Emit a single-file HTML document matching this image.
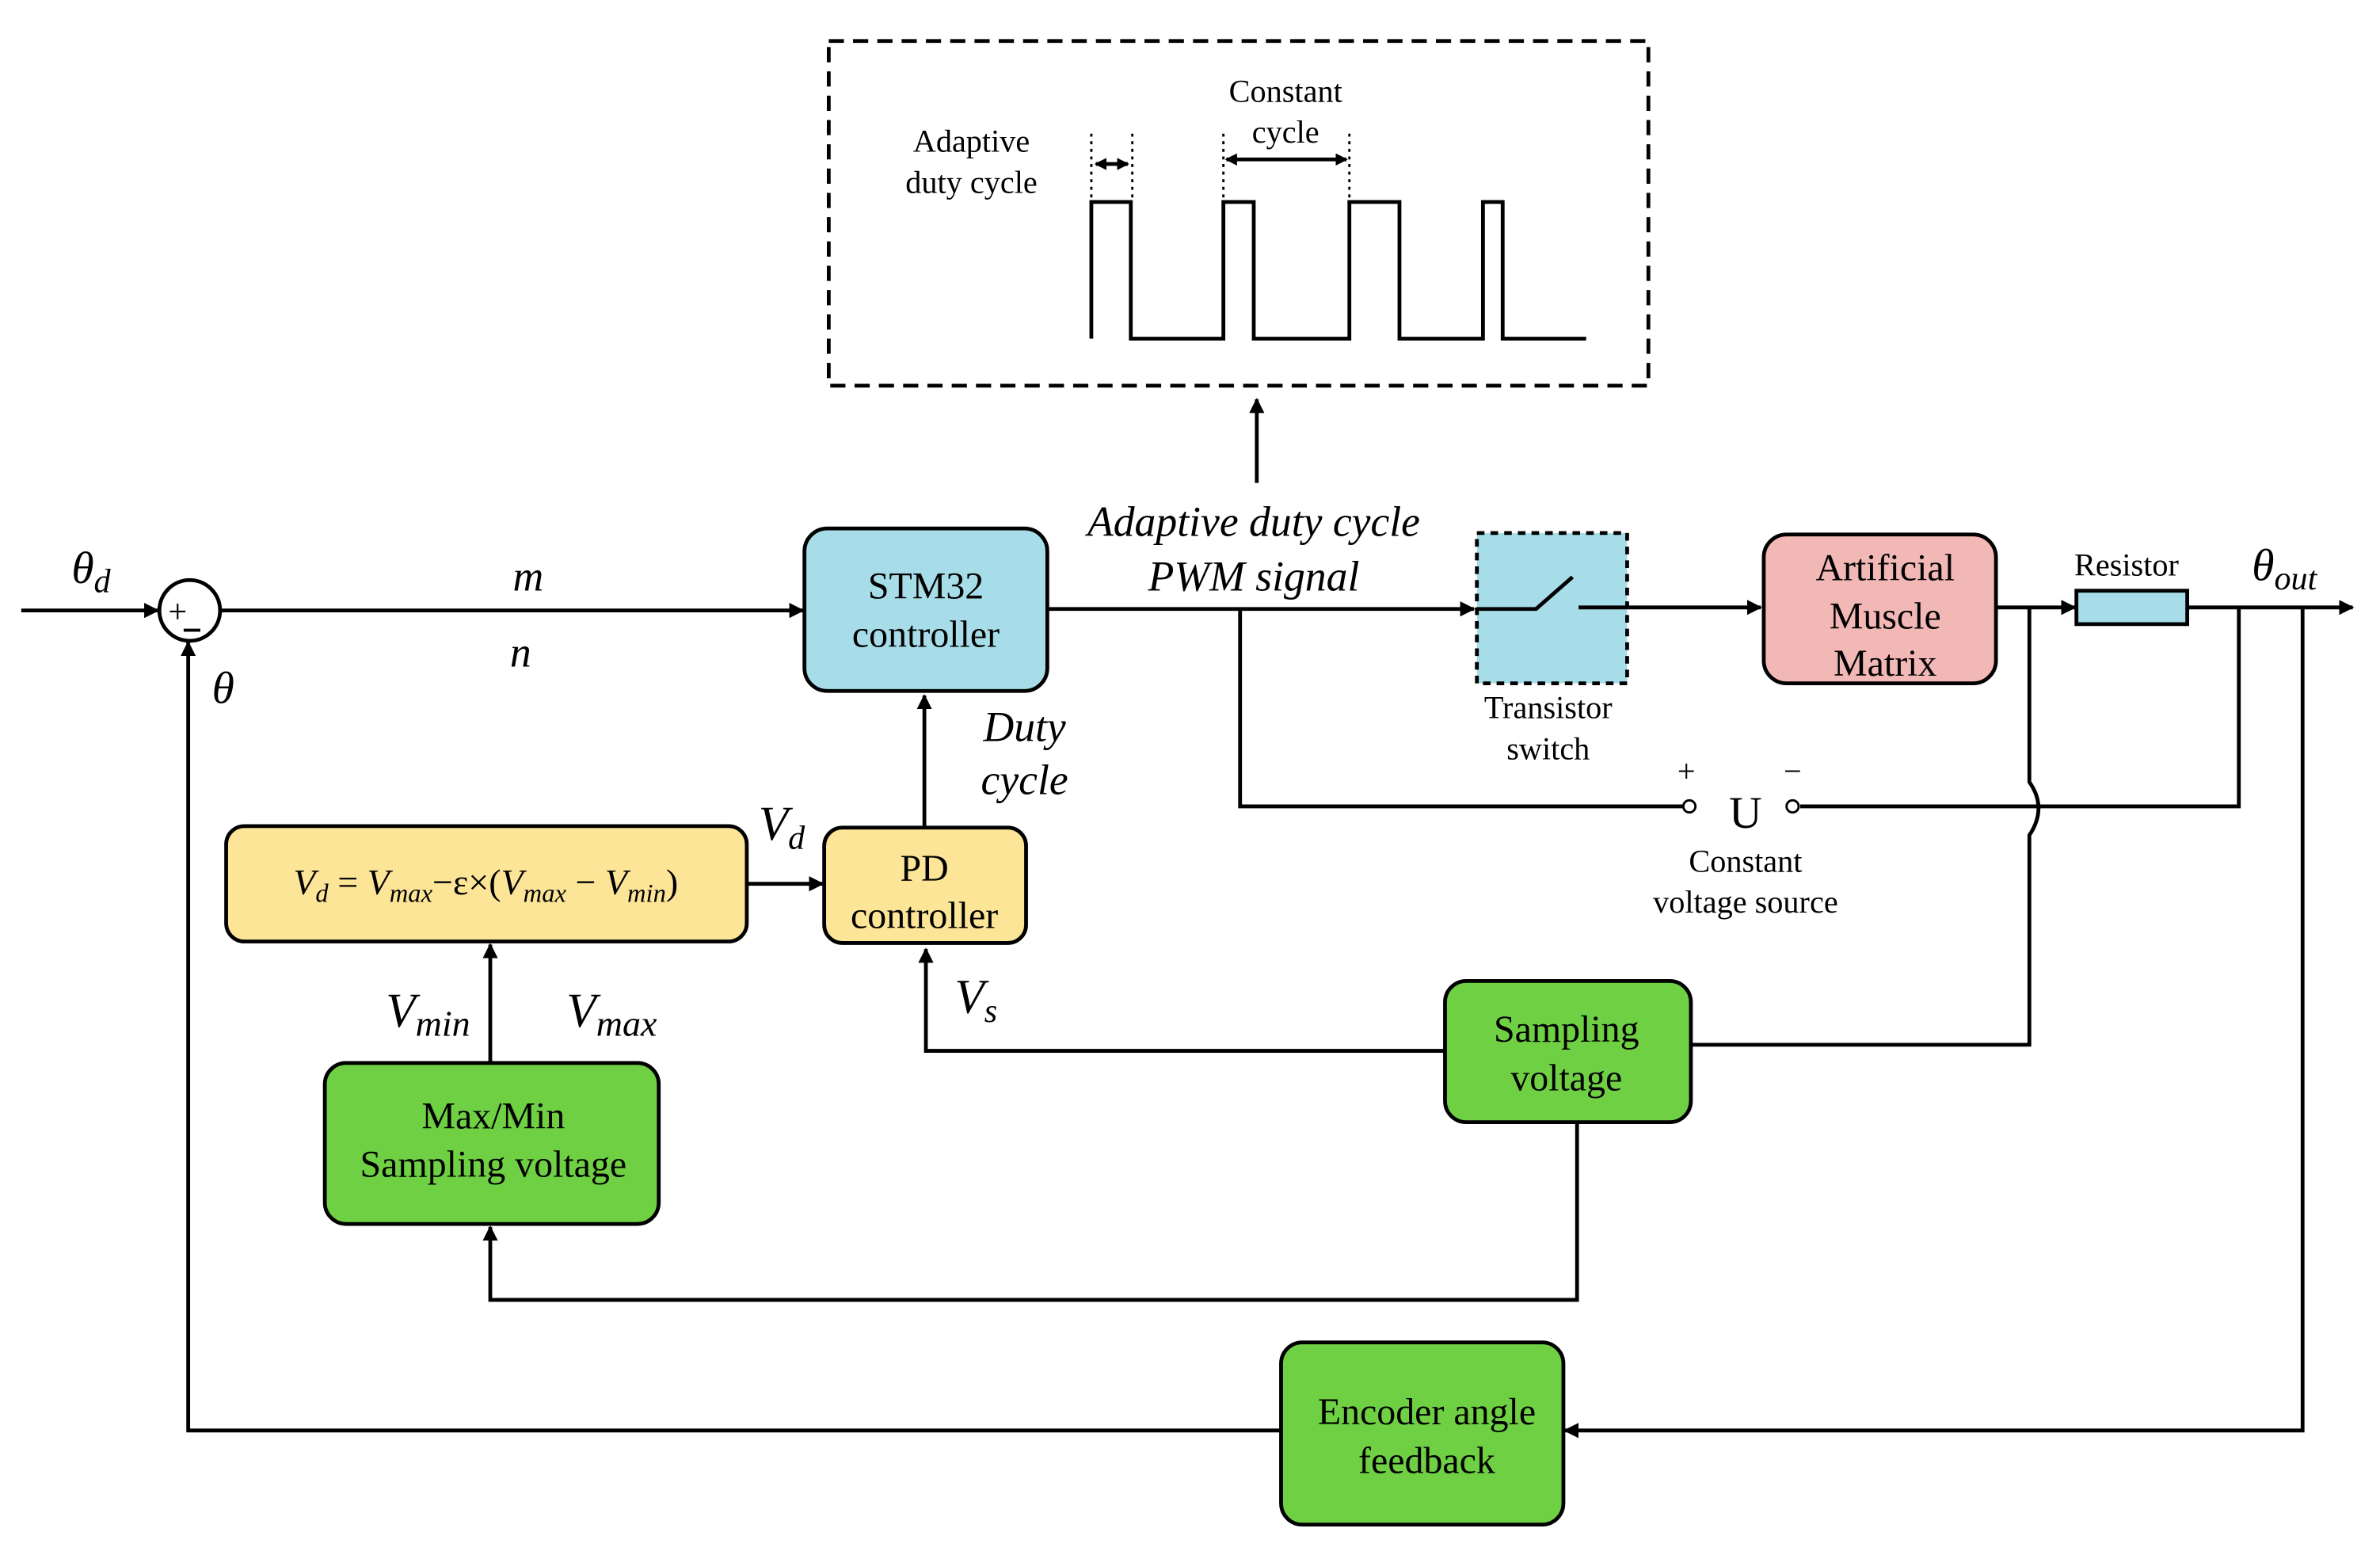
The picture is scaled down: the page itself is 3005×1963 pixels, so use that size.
<!DOCTYPE html>
<html><head><meta charset="utf-8"><style>html,body{margin:0;padding:0;background:#fff}svg{display:block}</style></head><body>
<svg width="3005" height="1963" viewBox="0 0 1568 1024" preserveAspectRatio="none" xmlns="http://www.w3.org/2000/svg" font-family="'Liberation Serif', serif">
<defs><marker id="a" markerWidth="10" markerHeight="10" refX="9" refY="5" orient="auto" markerUnits="userSpaceOnUse"><path d="M0,0 L10,5 L0,10 z" fill="#000"/></marker>
<marker id="b" markerWidth="8" markerHeight="8" refX="7" refY="4" orient="auto-start-reverse" markerUnits="userSpaceOnUse"><path d="M0,0 L8,4 L0,8 z" fill="#000"/></marker></defs>
<g fill="none" stroke="#000" stroke-width="2.5">
<rect x="546" y="27" width="540" height="227" stroke-dasharray="10,6"/>
<path d="M719,223 V133 H745 V223 H806 V133 H826 V223 H889 V133 H922 V223 H977 V133 H990 V223 H1045"/>
</g>
<g stroke="#000" stroke-width="1.5" stroke-dasharray="2,3"><path d="M719,88 V133 M746,88 V133 M806,88 V133 M889,88 V133"/></g>
<g stroke="#000" stroke-width="2.5" fill="none">
<path d="M722,108 H743" marker-start="url(#b)" marker-end="url(#b)"/>
<path d="M808,105 H887" marker-start="url(#b)" marker-end="url(#b)"/>
<path d="M828,318 V263" marker-end="url(#a)"/>
<path d="M14,402 H104" marker-end="url(#a)"/>
<path d="M146,402 H529" marker-end="url(#a)"/>
<path d="M690,401 H971" marker-end="url(#a)"/>
<path d="M817,401 V531 H1109"/>
<path d="M1186,531 H1475 V401"/>
<path d="M1040,400 H1160" marker-end="url(#a)"/>
<path d="M1315,400 H1367" marker-end="url(#a)"/>
<path d="M1441,400 H1550" marker-end="url(#a)"/>
<path d="M1337,400 V515 Q1349,532 1337,550 V688 H1114"/>
<path d="M1517,400 V942 H1031" marker-end="url(#a)"/>
<path d="M952,692 H610 V625" marker-end="url(#a)"/>
<path d="M1039,739 V856 H323 V808" marker-end="url(#a)"/>
<path d="M323,700 V622" marker-end="url(#a)"/>
<path d="M492,582 H542" marker-end="url(#a)"/>
<path d="M609,545 V458" marker-end="url(#a)"/>
<path d="M844,942 H124 V423" marker-end="url(#a)"/>
<circle cx="125" cy="402" r="20" fill="#fff"/>
<circle cx="1113" cy="531" r="4" fill="#fff" stroke-width="1.5"/>
<circle cx="1181" cy="531" r="4" fill="#fff" stroke-width="1.5"/>
</g>
<g stroke="#000" stroke-width="2.5">
<rect x="530" y="348" width="160" height="107" rx="15" fill="#a6dde8"/>
<rect x="973" y="351" width="99" height="99" fill="#a6dde8" stroke-dasharray="5,4"/>
<rect x="1162" y="352" width="153" height="98" rx="15" fill="#f2b8b5"/>
<rect x="1368" y="389" width="73" height="22" fill="#a6dde8"/>
<rect x="952" y="646" width="162" height="93" rx="14" fill="#6fd044"/>
<rect x="214" y="700" width="220" height="106" rx="14" fill="#6fd044"/>
<rect x="149" y="544" width="343" height="76" rx="12" fill="#fde598"/>
<rect x="543" y="545" width="133" height="76" rx="12" fill="#fde598"/>
<rect x="844" y="884" width="186" height="120" rx="14" fill="#6fd044"/>
</g>
<path d="M973,401 H1012 L1036,380 M1040,400 H1072" stroke="#000" stroke-width="2.5" fill="none"/>
<g font-size="21" text-anchor="middle" fill="#000">
<text x="640" y="100">Adaptive</text><text x="640" y="127">duty cycle</text>
<text x="847" y="67">Constant</text><text x="847" y="94">cycle</text>
<text x="1020" y="473">Transistor</text><text x="1020" y="500">switch</text>
<text x="1150" y="574">Constant</text><text x="1150" y="601">voltage source</text>
<text x="1401" y="379">Resistor</text>
<text x="1111" y="515">+</text><text x="1181" y="515">−</text>
</g>
<g font-size="25" text-anchor="middle" fill="#000">
<text x="610" y="394">STM32</text><text x="610" y="426">controller</text>
<text x="1242" y="382">Artificial</text><text x="1242" y="414">Muscle</text><text x="1242" y="445">Matrix</text>
<text x="609" y="580">PD</text><text x="609" y="611">controller</text>
<text x="1032" y="686">Sampling</text><text x="1032" y="718">voltage</text>
<text x="325" y="743">Max/Min</text><text x="325" y="775">Sampling voltage</text>
<text x="940" y="938">Encoder angle</text><text x="940" y="970">feedback</text>
<text x="1150" y="545" font-size="30">U</text>
<text x="117" y="410" font-size="22">+</text>
</g>
<path d="M121,415 H132" stroke="#000" stroke-width="2"/>
<g font-size="28" font-style="italic" text-anchor="middle" fill="#000">
<text x="826" y="353">Adaptive duty cycle</text><text x="826" y="389">PWM signal</text>
<text x="675" y="488">Duty</text><text x="675" y="523">cycle</text>
<text x="348" y="389">m</text><text x="343" y="439">n</text>
<text x="147" y="463" font-size="30">θ</text>
<text x="60" y="384" font-size="30">θ<tspan font-size="22" dy="6">d</tspan></text>
<text x="1505" y="382" font-size="30">θ<tspan font-size="22" dy="6">out</tspan></text>
<text x="515" y="553" font-size="32">V<tspan font-size="22" dy="6">d</tspan></text>
<text x="643" y="667" font-size="32">V<tspan font-size="22" dy="6">s</tspan></text>
<text x="282" y="676" font-size="32">V<tspan font-size="24" dy="6">min</tspan></text>
<text x="403" y="676" font-size="32">V<tspan font-size="24" dy="6">max</tspan></text>
</g>
<text x="320" y="589" font-size="24" text-anchor="middle" font-style="italic" fill="#000">V<tspan font-size="17" dy="5">d</tspan><tspan dy="-5" font-style="normal"> = </tspan>V<tspan font-size="17" dy="5">max</tspan><tspan dy="-5" font-style="normal">−ε×(</tspan>V<tspan font-size="17" dy="5">max</tspan><tspan dy="-5" font-style="normal"> − </tspan>V<tspan font-size="17" dy="5">min</tspan><tspan dy="-5" font-style="normal">)</tspan></text>
</svg>
</body></html>
